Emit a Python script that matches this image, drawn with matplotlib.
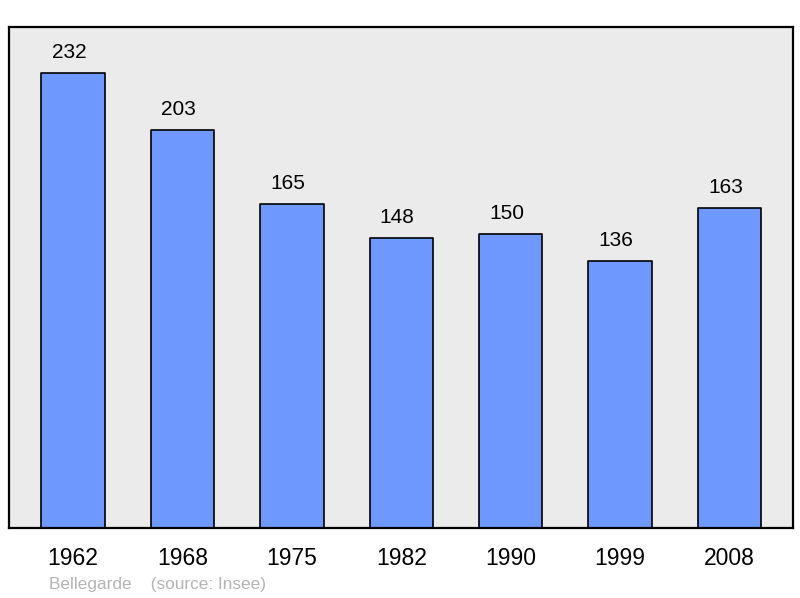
import matplotlib.pyplot as plt

years = ["1962", "1968", "1975", "1982", "1990", "1999", "2008"]
population = [232, 203, 165, 148, 150, 136, 163]
caption = "Bellegarde    (source: Insee)"

plt.rcParams["font.family"] = ["Liberation Sans", "DejaVu Sans"]

fig = plt.figure(figsize=(8, 5.98), dpi=100)
ax = fig.add_axes([0.01125, 0.117, 0.98, 0.838])
ax.set_facecolor("#ebebeb")

x = range(len(years))
bars = ax.bar(x, population, width=0.58, color="#7099ff",
              edgecolor="black", linewidth=1.2)
for b in bars:
    b.set_joinstyle("round")

for xi, v in zip(x, population):
    ax.annotate(str(v), (xi, v), xytext=(-3, 8), textcoords="offset points",
                ha="center", va="bottom", fontsize=15)

ax.set_xlim(-0.585, 6.58)
ax.set_ylim(0, 255.5)
ax.set_xticks(list(x))
ax.set_xticklabels(years, fontsize=16.5)
ax.tick_params(axis="x", length=0, pad=14)
ax.set_yticks([])
for s in ax.spines.values():
    s.set_linewidth(1.6)
    s.set_joinstyle("round")

fig.text(49 / 800, 1 - 585 / 598, caption, fontsize=12.4, color="#b4b4b4",
         ha="left", va="center")

fig.savefig("out.png", dpi=100)
